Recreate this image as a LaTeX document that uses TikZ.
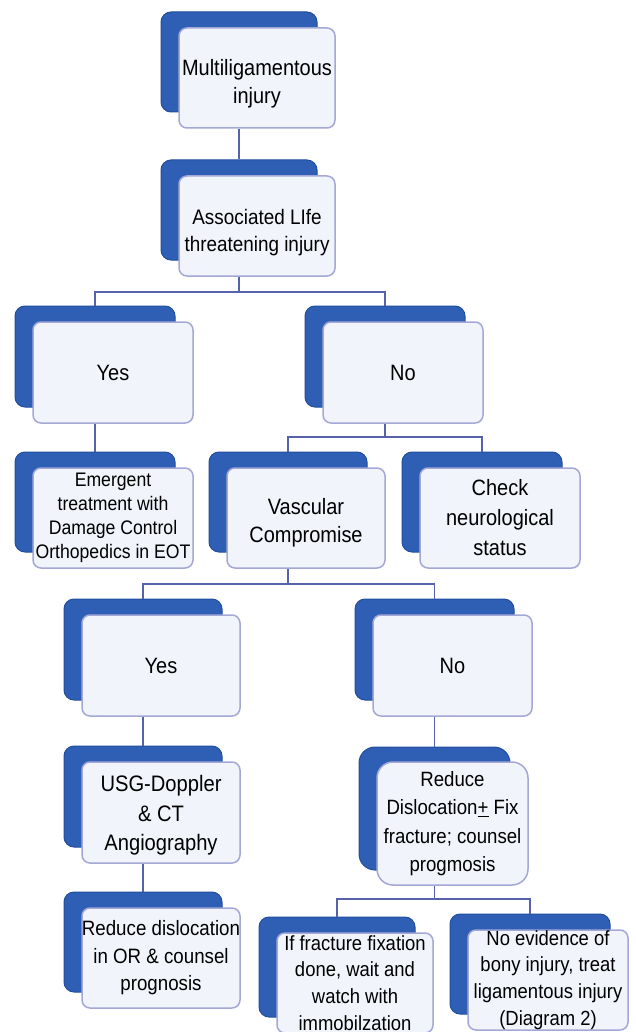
\documentclass[tikz,border=0pt]{standalone}
\usepackage{fontspec}
\setmainfont[FakeStretch=0.9]{Liberation Sans}
\usetikzlibrary{calc}
\definecolor{backblue}{HTML}{2E5FB4}
\definecolor{backedge}{HTML}{214E9E}
\definecolor{frontedge}{HTML}{A4A8D6}
\definecolor{frontfill}{HTML}{F1F4FB}
\definecolor{connblue}{HTML}{5662AC}
\tikzset{
  backbox/.style={draw=backedge, line width=1pt, fill=backblue, rounded corners=10pt, inner sep=0pt},
  frontbox/.style={draw=frontedge, line width=1.5pt, fill=frontfill, rounded corners=8pt, inner sep=0pt},
  boxtext/.style={align=center, text=black, inner sep=0pt},
  conn/.style={draw=connblue, line width=1.8pt},
  fA/.style={font=\fontsize{22.2}{28}\selectfont},
  fB/.style={font=\fontsize{21}{27}\selectfont},
  fC/.style={font=\fontsize{19.6}{24}\selectfont},
  fD/.style={font=\fontsize{20.5}{26.7}\selectfont},
}
% [font style]{name}{x}{y}{w}{h}{text shift}{text}
\newcommand\flowbx[8][]{%
  \node[backbox, minimum width=#5pt, minimum height=#6pt] (#2B) at (#3-18,#4-16) {};
  \node[frontbox, minimum width=#5pt, minimum height=#6pt,
        label={[boxtext, #1, yshift=-#7pt]center:{#8}}] (#2) at (#3,#4) {};
}
\begin{document}
\begin{tikzpicture}[x=1pt,y=-1pt]
\useasboundingbox (0,0) rectangle (635,1032);
\fill[white] (0,0) rectangle (635,1032);
\clip (0,0) rectangle (635,1032);

\flowbx[fA]{multi}{257}{78}{156}{100}{6}{Multiligamentous\\injury}
\flowbx[fB]{assoc}{257}{226}{156}{100}{7}{Associated LIfe\\threatening injury}
\flowbx[fA]{yesA}{113}{372.5}{160}{101}{0}{Yes}
\flowbx[fA]{noA}{403}{372.5}{160}{101}{0}{No}
\flowbx[fC]{emerg}{113}{518}{160}{100}{0}{Emergent\\treatment with\\Damage Control\\Orthopedics in EOT}
\flowbx[fA]{vasc}{306}{518}{158}{100}{5}{Vascular\\Compromise}
\flowbx[font=\fontsize{22.2}{30}\selectfont]{neuro}{500}{518}{160}{100}{0}{Check\\neurological\\status}
\flowbx[fA]{yesB}{161}{665.5}{158}{101}{0}{Yes}
\flowbx[fA]{noB}{452.5}{665.5}{159}{101}{0}{No}
\flowbx[font=\fontsize{22.4}{29.5}\selectfont]{usg}{161}{812.5}{158}{101}{3}{USG-Doppler\\\& CT\\Angiography}
\node[backbox, rounded corners=16pt, minimum width=151pt, minimum height=123pt] (fixB) at (452.5-18,823.5-15) {};
\node[frontbox, rounded corners=16pt, minimum width=151pt, minimum height=123pt,
      label={[boxtext, font=\fontsize{20.7}{28.5}\selectfont]center:{Reduce\\Dislocation\underline{+} Fix\\fracture; counsel\\progmosis}}] (fix) at (452.5,823.5) {};
\flowbx[font=\fontsize{20.8}{27.5}\selectfont]{redor}{161}{958}{158}{100}{0}{Reduce dislocation\\in OR \& counsel\\prognosis}
\flowbx[fD]{iffrac}{355}{983}{156}{100}{0}{If fracture fixation\\done, wait and\\watch with\\immobilzation}
\flowbx[fD]{noevid}{548}{980}{160}{100}{0}{No evidence of\\bony injury, treat\\ligamentous injury\\(Diagram 2)}

% connectors
\draw[conn] (multi.south -| multiB.center) -- (assocB.north);
\coordinate (j1) at ($(assoc.south -| assocB.center)+(0,15)$);
\draw[conn] (assoc.south -| assocB.center) -- (j1);
\draw[conn] (yesAB.north) |- (j1) -| (noAB.north);
\draw[conn] (yesA.south -| yesAB.center) -- (emergB.north);
\coordinate (j2) at ($(noA.south -| noAB.center)+(0,13)$);
\draw[conn] (noA.south -| noAB.center) -- (j2);
\draw[conn] (vascB.north) |- (j2) -| (neuroB.north);
\coordinate (j3) at ($(vasc.south -| vascB.center)+(0,15)$);
\draw[conn] (vasc.south -| vascB.center) -- (j3);
\draw[conn] (yesBB.north) |- (j3) -| (noBB.north);
\draw[conn] (yesB.south -| yesBB.center) -- (usgB.north);
\draw[conn] (usg.south -| usgB.center) -- (redorB.north);
\draw[conn] (noB.south -| noBB.center) -- (fixB.north -| noBB.center);
\coordinate (j4) at ($(fix.south -| fixB.center)+(0,13)$);
\draw[conn] (fix.south -| fixB.center) -- (j4);
\draw[conn] (iffracB.north) |- (j4) -| (noevidB.north);
\end{tikzpicture}
\end{document}
